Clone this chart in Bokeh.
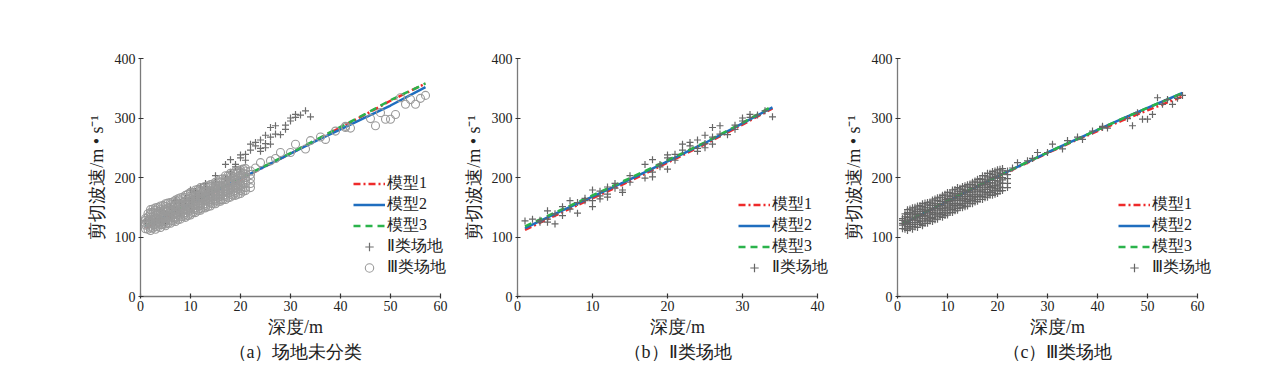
from bokeh.plotting import figure
from bokeh.models import Range1d, Legend, LegendItem, Title, FixedTicker
from bokeh.layouts import row
from bokeh.embed import file_html
from bokeh.resources import INLINE

# ---------------- data ----------------
# Site class II (panel b, and crosses in panel a)
site2_depth = [1, 2, 3, 3, 4, 4, 4, 5, 5, 6, 6, 7, 7, 8, 8, 9, 9, 10, 10, 10, 11, 11, 11,
               12, 12, 12, 13, 13, 14, 14, 15, 15, 17, 17, 18, 18, 18, 19, 19, 20, 20, 20,
               21, 21, 22, 22, 23, 23, 24, 24, 24, 25, 25, 25, 26, 26, 26, 27, 27, 28, 29,
               29, 30, 30, 31, 31, 32, 33, 34]
site2_vs = [127, 130, 128, 125, 144, 130, 125, 139, 122, 151, 136, 161, 147, 158, 140, 165,
            161, 179, 161, 151, 177, 169, 164, 184, 172, 167, 190, 182, 179, 175, 203, 192,
            222, 199, 230, 209, 201, 222, 218, 238, 233, 214, 239, 229, 256, 246, 259, 253,
            263, 249, 244, 271, 257, 250, 284, 268, 256, 287, 273, 272, 288, 281, 300, 295,
            306, 301, 305, 312, 302]

# Site class III (panel c, and circles in panel a)
site3_depth = (
    [1] * 5 + [2] * 10 + [3] * 10 + [4] * 10 + [5] * 10 + [6] * 10 + [7] * 10 + [8] * 10
    + [9] * 10 + [10] * 10 + [11] * 10 + [12] * 10 + [13] * 10 + [14] * 10 + [15] * 10
    + [16] * 10 + [17] * 10 + [18] * 10 + [19] * 10 + [20] * 10 + [21] * 8 + [22] * 5
    + [1.5] * 5 + [2.5] * 6 + [3.5] * 6 + [4.5] * 6 + [5.5] * 6 + [6.5] * 6 + [7.5] * 6
    + [8.5] * 6 + [9.5] * 6 + [10.5] * 6 + [11.5] * 6 + [12.5] * 6 + [13.5] * 6
    + [14.5] * 6 + [15.5] * 6 + [16.5] * 6 + [17.5] * 6 + [18.5] * 6 + [19.5] * 6
    + [20.5] * 6
    + [23, 24, 26, 27, 28, 30, 31, 33, 34, 36, 37, 39, 41, 41, 42, 46, 47, 48, 49, 50,
       51, 52, 53, 54, 55, 56, 57]
)
site3_vs = (
    [114, 120, 123, 128, 131]
    + [111, 115, 118, 123, 125, 130, 133, 138, 141, 146]
    + [113, 118, 121, 124, 129, 132, 137, 140, 145, 149]
    + [116, 121, 124, 128, 132, 135, 140, 143, 147, 152]
    + [119, 122, 127, 131, 135, 138, 143, 146, 151, 156]
    + [123, 127, 130, 135, 137, 142, 145, 150, 154, 158]
    + [126, 131, 133, 138, 141, 145, 148, 153, 157, 162]
    + [130, 134, 137, 140, 145, 148, 153, 156, 161, 166]
    + [133, 138, 141, 145, 148, 153, 156, 160, 166, 170]
    + [137, 140, 145, 149, 152, 157, 160, 165, 169, 175]
    + [141, 146, 149, 153, 156, 161, 164, 169, 173, 179]
    + [145, 148, 153, 156, 161, 164, 168, 173, 177, 183]
    + [149, 153, 156, 161, 164, 168, 171, 176, 180, 185]
    + [152, 157, 160, 163, 168, 171, 176, 179, 184, 188]
    + [156, 161, 164, 168, 171, 176, 179, 183, 188, 192]
    + [160, 163, 168, 171, 176, 179, 184, 187, 192, 197]
    + [163, 168, 171, 176, 179, 184, 187, 192, 197, 203]
    + [167, 172, 175, 180, 183, 188, 191, 196, 201, 207]
    + [170, 175, 178, 183, 186, 191, 195, 200, 205, 210]
    + [173, 178, 181, 186, 189, 194, 199, 204, 208, 213]
    + [178, 183, 190, 196, 200, 206, 211, 215]
    + [183, 190, 198, 205, 211]
    + [113, 121, 126, 134, 139]
    + [115, 121, 128, 134, 141, 147]
    + [117, 124, 130, 138, 143, 150]
    + [121, 126, 134, 139, 147, 153]
    + [123, 131, 136, 144, 149, 157]
    + [127, 133, 140, 146, 153, 159]
    + [129, 137, 142, 150, 156, 164]
    + [134, 139, 147, 152, 160, 167]
    + [136, 144, 149, 157, 163, 172]
    + [141, 147, 154, 160, 168, 175]
    + [144, 152, 157, 165, 171, 180]
    + [149, 154, 162, 168, 176, 182]
    + [151, 159, 165, 172, 178, 186]
    + [156, 162, 169, 175, 183, 189]
    + [159, 166, 172, 180, 186, 194]
    + [163, 169, 177, 183, 191, 198]
    + [166, 174, 180, 188, 194, 203]
    + [170, 176, 185, 191, 199, 207]
    + [172, 181, 187, 195, 202, 211]
    + [177, 184, 192, 199, 207, 214]
    + [216, 225, 228, 232, 242, 242, 256, 248, 262, 268, 264, 278, 286, 284, 283, 299,
       287, 309, 298, 298, 306, 334, 323, 331, 323, 333, 338]
)

# Fitted models, panel a (all sites)
model_depth_a = [1, 5, 10, 15, 20, 25, 30, 35, 40, 45, 50, 57]
model1_a = [115, 133, 155, 176, 197, 219, 240, 262, 284, 306, 329, 358]
model2_a = [118, 135, 156, 177, 198, 219, 240, 261, 281, 301, 321, 352]
model3_a = [119, 136, 157, 178, 199, 220, 241, 263, 285, 307, 330, 358]

# Fitted models, panel b (site class II)
model_depth_b = [1, 5, 10, 15, 20, 25, 30, 34]
model1_b = [112, 136, 165, 194, 225, 256, 289, 316]
model2_b = [115, 139, 168, 197, 227, 258, 291, 318]
model3_b = [118, 141, 170, 199, 229, 259, 292, 320]

# Fitted models, panel c (site class III)
model_depth_c = [1, 5, 10, 15, 20, 25, 30, 35, 40, 45, 50, 57]
model1_c = [121, 138, 160, 181, 201, 221, 241, 260, 278, 296, 313, 336]
model2_c = [121, 139, 160, 181, 202, 222, 242, 261, 280, 299, 317, 342]
model3_c = [122, 140, 161, 182, 202, 222, 242, 261, 280, 299, 317, 342]

x_ticks_a = [0, 10, 20, 30, 40, 50, 60]
x_ticks_b = [0, 10, 20, 30, 40]
y_ticks = [0, 100, 200, 300, 400]

captions = ["（a）场地未分类", "（b）Ⅱ类场地", "（c）Ⅲ类场地"]
x_label = "深度/m"
y_label = "剪切波速/m • s⁻¹"
model_names = ["模型1", "模型2", "模型3"]
site_names = ["Ⅱ类场地", "Ⅲ类场地"]

# ---------------- style ----------------
FONT = "Liberation Serif"
RED = "#ee2a2a"
BLUE = "#1f6ebf"
GREEN = "#2bb34b"
AXIS = "#7a7a7a"
TICK = "#333333"
TXT = "#222222"


def make_fig(width, bl, br, xmax, xview, xticks, caption):
    p = figure(width=width, height=378, x_range=Range1d(0, xview), y_range=Range1d(0, 400),
               output_backend="svg", toolbar_location=None,
               min_border_left=bl, min_border_right=br, min_border_top=58, min_border_bottom=82)
    p.xgrid.visible = False
    p.ygrid.visible = False
    p.outline_line_color = None
    p.background_fill_color = "white"
    p.border_fill_color = "white"
    p.xaxis.ticker = FixedTicker(ticks=xticks)
    p.yaxis.ticker = FixedTicker(ticks=y_ticks)
    p.xaxis.bounds = (0, xmax)
    for ax in (p.xaxis, p.yaxis):
        ax.axis_line_color = AXIS
        ax.axis_line_width = 1.3
        ax.major_tick_line_color = TICK
        ax.major_tick_line_width = 1.2
        ax.minor_tick_line_color = None
        ax.major_tick_in = 3
        ax.major_tick_out = 2
        ax.major_label_text_font = FONT
        ax.major_label_text_font_size = "14px"
        ax.major_label_text_color = TXT
        ax.axis_label_text_font = FONT
        ax.axis_label_text_font_size = "18px"
        ax.axis_label_text_font_style = "normal"
        ax.axis_label_text_color = TXT
    p.xaxis.major_label_standoff = 2
    p.yaxis.major_label_standoff = 3
    p.xaxis.axis_label = x_label
    p.yaxis.axis_label = y_label
    p.xaxis.axis_label_standoff = 3
    p.yaxis.axis_label_standoff = 5
    t = Title(text=caption, align="center", text_font=FONT, text_font_size="18px",
              text_font_style="normal", text_color=TXT, standoff=0)
    p.add_layout(t, "below")
    return p


def add_models(p, d, m1, m2, m3):
    r1 = p.line(d, m1, line_color=RED, line_width=2.5, line_dash="7 3 2 3")
    r2 = p.line(d, m2, line_color=BLUE, line_width=2.5)
    r3 = p.line(d, m3, line_color=GREEN, line_width=2.5, line_dash="7 5")
    return [r1, r2, r3]


def add_legend(p, items, loc):
    lg = Legend(items=items, location=loc, border_line_color=None, background_fill_alpha=0,
                padding=0, margin=0, spacing=0, glyph_width=32, glyph_height=21,
                label_height=21, label_standoff=2, label_text_font=FONT,
                label_text_font_size="16px", label_text_color=TXT)
    p.add_layout(lg)


# panel a: frame 310 px wide (0..62), axis drawn 0..60
pa = make_fig(450, 140, 0, 60, 62, x_ticks_a, captions[0])
ra = add_models(pa, model_depth_a, model1_a, model2_a, model3_a)
sa2 = pa.scatter(site2_depth, site2_vs, marker="cross", size=7, line_color="#6e6e6e", line_width=1.2)
sa3 = pa.scatter(site3_depth, site3_vs, marker="circle", size=8, fill_color=None,
                 line_color="#9a9a9a", line_width=1.1)
add_legend(pa, [LegendItem(label=model_names[i], renderers=[ra[i]]) for i in range(3)]
           + [LegendItem(label=site_names[0], renderers=[sa2]),
              LegendItem(label=site_names[1], renderers=[sa3])], (213, 18))

# panel b: frame 320 px wide (0..42.667), axis drawn 0..40
pb = make_fig(387, 67, 0, 40, 42.667, x_ticks_b, captions[1])
rb = add_models(pb, model_depth_b, model1_b, model2_b, model3_b)
sb = pb.scatter(site2_depth, site2_vs, marker="cross", size=7, line_color="#666666", line_width=1.2)
add_legend(pb, [LegendItem(label=model_names[i], renderers=[rb[i]]) for i in range(3)]
           + [LegendItem(label=site_names[0], renderers=[sb])], (221, 18))

# panel c: frame 320 px wide (0..64), axis drawn 0..60
pc = make_fig(390, 60, 10, 60, 64, x_ticks_a, captions[2])
rc = add_models(pc, model_depth_c, model1_c, model2_c, model3_c)
sc = pc.scatter(site3_depth, site3_vs, marker="cross", size=7, line_color="#666666", line_width=1.2)
add_legend(pc, [LegendItem(label=model_names[i], renderers=[rc[i]]) for i in range(3)]
           + [LegendItem(label=site_names[1], renderers=[sc])], (221, 18))

layout = row(pa, pb, pc)
open("out.html", "w").write(file_html(layout, INLINE))
